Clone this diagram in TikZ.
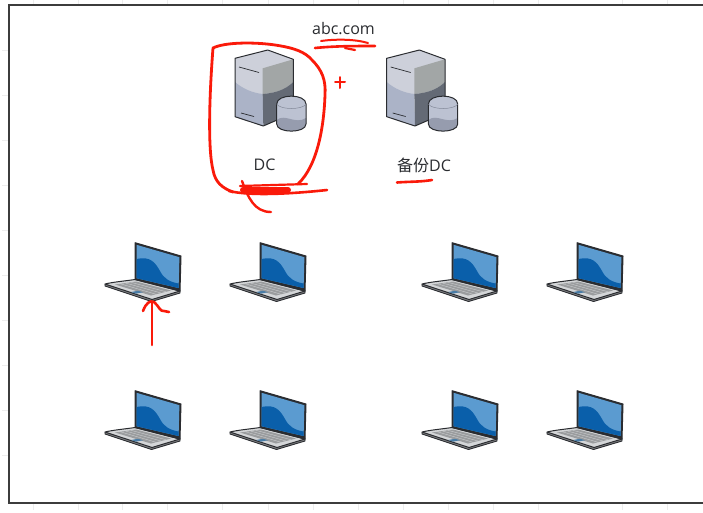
\documentclass[tikz,border=0pt]{standalone}
\usepackage{fontspec}
\setmainfont{Open Sans}
\newfontfamily\cjk{Noto Sans CJK SC}
\definecolor{ink}{HTML}{2A2C30}
\definecolor{frameC}{HTML}{3C3C3C}
\definecolor{redpen}{HTML}{FA1A0A}
\definecolor{sLight}{HTML}{CDD0DA}
\definecolor{sMid}{HTML}{ABB3C7}
\definecolor{sRight}{HTML}{A2A6A6}
\definecolor{sDark}{HTML}{646A75}
\definecolor{cylTop}{HTML}{BCC2D2}
\definecolor{cylLow}{HTML}{969CAE}
\definecolor{lapBlue}{HTML}{5B9BD0}
\definecolor{lapDeep}{HTML}{0A5FAA}
\definecolor{lapBase}{HTML}{D4D6D8}
\definecolor{lapKeys}{HTML}{9A9C9E}
\tikzset{
  pen/.style={draw=redpen,line width=#1,line cap=round,line join=round},
  pen/.default=2.6pt,
  lbl/.style={font=\fontsize{16}{18}\selectfont,text=ink,inner sep=0pt},
  outl/.style={draw=ink,line width=1pt,line join=round},
  tick/.style={draw=gray!14,line width=.5pt},
  serverpic/.pic={
    \fill[sLight] (0,8.3) -- (32.7,0) -- (58.3,9.3) -- (58.3,50) -- (27.7,46) -- (0,40) -- cycle;
    \fill[sRight] (27.7,18.3) -- (58.3,9.3) -- (58.3,32) .. controls (50,40) and (40,43) .. (27.7,44) -- cycle;
    \fill[sMid] (0,32) .. controls (8,39) and (18,43) .. (27.7,44) -- (28.3,76) -- (0,66.7) -- cycle;
    \fill[sDark] (27.7,44) .. controls (40,43) and (50,40) .. (58.3,32) -- (58.3,63) -- (28.3,76) -- cycle;
    \draw[outl] (0,8.3) -- (32.7,0) -- (58.3,9.3) -- (58.3,63) -- (28.3,76) -- (0,66.7) -- cycle;
    \draw[draw=ink,line width=.7pt] (4,17) -- (24,22.5) (6,63) -- (19,66.5);
    \path[fill=cylTop] (41.7,54) .. controls (41.7,43.5) and (71,43.5) .. (71,54) -- (71,74) .. controls (71,83.5) and (41.7,83.5) .. (41.7,74) -- cycle;
    \path[fill=cylLow] (41.7,70) .. controls (50,63) and (60,75) .. (71,68) -- (71,74) .. controls (71,83.5) and (41.7,83.5) .. (41.7,74) -- cycle;
    \draw[outl] (41.7,54) .. controls (41.7,43.5) and (71,43.5) .. (71,54) -- (71,74) .. controls (71,83.5) and (41.7,83.5) .. (41.7,74) -- cycle;
    \draw[draw=sMid!70!ink,line width=.5pt] (41.7,54) .. controls (45,60) and (68,60) .. (71,54);
  },
  laptoppic/.pic={
    \path[draw=ink,line width=.9pt,fill=ink!60,line join=round] (0,42) -- (0,44) -- (46.5,59.5) -- (75,51) -- (75,49);
    \path[outl,fill=lapBase] (0,42) .. controls (8,40) and (20,39) .. (30,37.5) -- (75,49) -- (47,57.5) -- cycle;
    \path[fill=lapKeys] (10,42.5) -- (31,39.5) -- (66,48.5) -- (46,53.5) -- cycle;
    \foreach \t in {.25,.5,.75}{\draw[draw=lapBase,line width=.3pt] ($(10,42.5)!\t!(31,39.5)$) -- ($(46,53.5)!\t!(66,48.5)$);}
    \path[fill=lapBlue!80!black] (26,50) -- (33,48.8) -- (38,50.2) -- (31,51.6) -- cycle;
    \path[outl,fill=ink,line width=1pt] (30,37.5) -- (30,.7) -- (76,14) -- (75,49) -- cycle;
    \path[fill=lapBlue] (31.5,36.2) -- (31.5,2.8) -- (74.4,15.2) -- (73.6,46) -- cycle;
    \path[fill=lapDeep] (31.5,36.2) -- (31.5,17) .. controls (45,14) and (50,20) .. (55,29) .. controls (59,37) and (65,40) .. (73.6,41.5) -- (73.6,46) -- cycle;
  },
}
\usetikzlibrary{calc}
\begin{document}
\begin{tikzpicture}[x=1pt,y=-1pt]
\useasboundingbox (0,0) rectangle (703,512);
\fill[white] (0,0) rectangle (703,512);
\foreach \tx in {33,78,122,167,222,268,313,358,403,448,493,538,622,667}{\draw[tick] (\tx,0) -- (\tx,4) (\tx,504) -- (\tx,510);}
\foreach \ty in {50,95,140,185,230,275,320,365,410,455}{\draw[tick] (2,\ty) -- (8,\ty);}
\draw[frameC,line width=1.8pt] (703,5) -- (9,5) -- (9,503) -- (703,503);

\pic (srvA) at (235,50) {serverpic};
\pic (srvB) at (386.7,50) {serverpic};

\node[lbl] (domain) at (343.5,29) {abc.com};
\node[lbl] (dcA) at (264.5,165) {DC};
\node[lbl] (dcB) at (424,165) {{\cjk 备份}DC};

\pic (lap1) at (105,242) {laptoppic};
\pic (lap2) at (230,242) {laptoppic};
\pic (lap3) at (422,242) {laptoppic};
\pic (lap4) at (547,242) {laptoppic};
\pic (lap5) at (105,390) {laptoppic};
\pic (lap6) at (230,390) {laptoppic};
\pic (lap7) at (422,390) {laptoppic};
\pic (lap8) at (547,390) {laptoppic};

% red pen: loop round the first server
\draw[pen=2.8pt] (233,192) .. controls (222,188) and (215,182) .. (213,170)
  .. controls (208,150) and (209,100) .. (213,48)
  .. controls (225,42) and (255,42) .. (275,45)
  .. controls (295,48) and (305,52) .. (312,60)
  .. controls (322,70) and (326,80) .. (325,95)
  .. controls (324,125) and (318,165) .. (298,184);
\draw[pen=6pt] (243,190) -- (288,190);
\draw[pen=2.6pt] (229,191) .. controls (250,196) and (290,194) .. (327,190);
\draw[pen=2.4pt] (242,181) .. controls (248,197) and (254,212) .. (271,212);
\draw[pen=2.2pt] (240,186) -- (307,184);
% underlines
\draw[pen=2pt] (321,41) .. controls (335,39) and (355,39) .. (368,43);
\draw[pen=2.6pt] (315,48) .. controls (335,46) and (355,46) .. (375,46);
\draw[pen=2.2pt] (345,48) -- (355,50);
\draw[pen=2.6pt] (397,182.5) .. controls (410,181.5) and (420,182) .. (432,180);
% plus
\draw[pen=2pt] (335,82) -- (345,82) (340,77) -- (340,88);
% arrow under the first laptop
\draw[pen=2.6pt] (152,345) -- (152,302);
\draw[pen=2.6pt] (143,311) .. controls (146,303) and (150,300) .. (154,302) .. controls (159,306) and (160,312) .. (164,311) -- (169,312);
\end{tikzpicture}
\end{document}
